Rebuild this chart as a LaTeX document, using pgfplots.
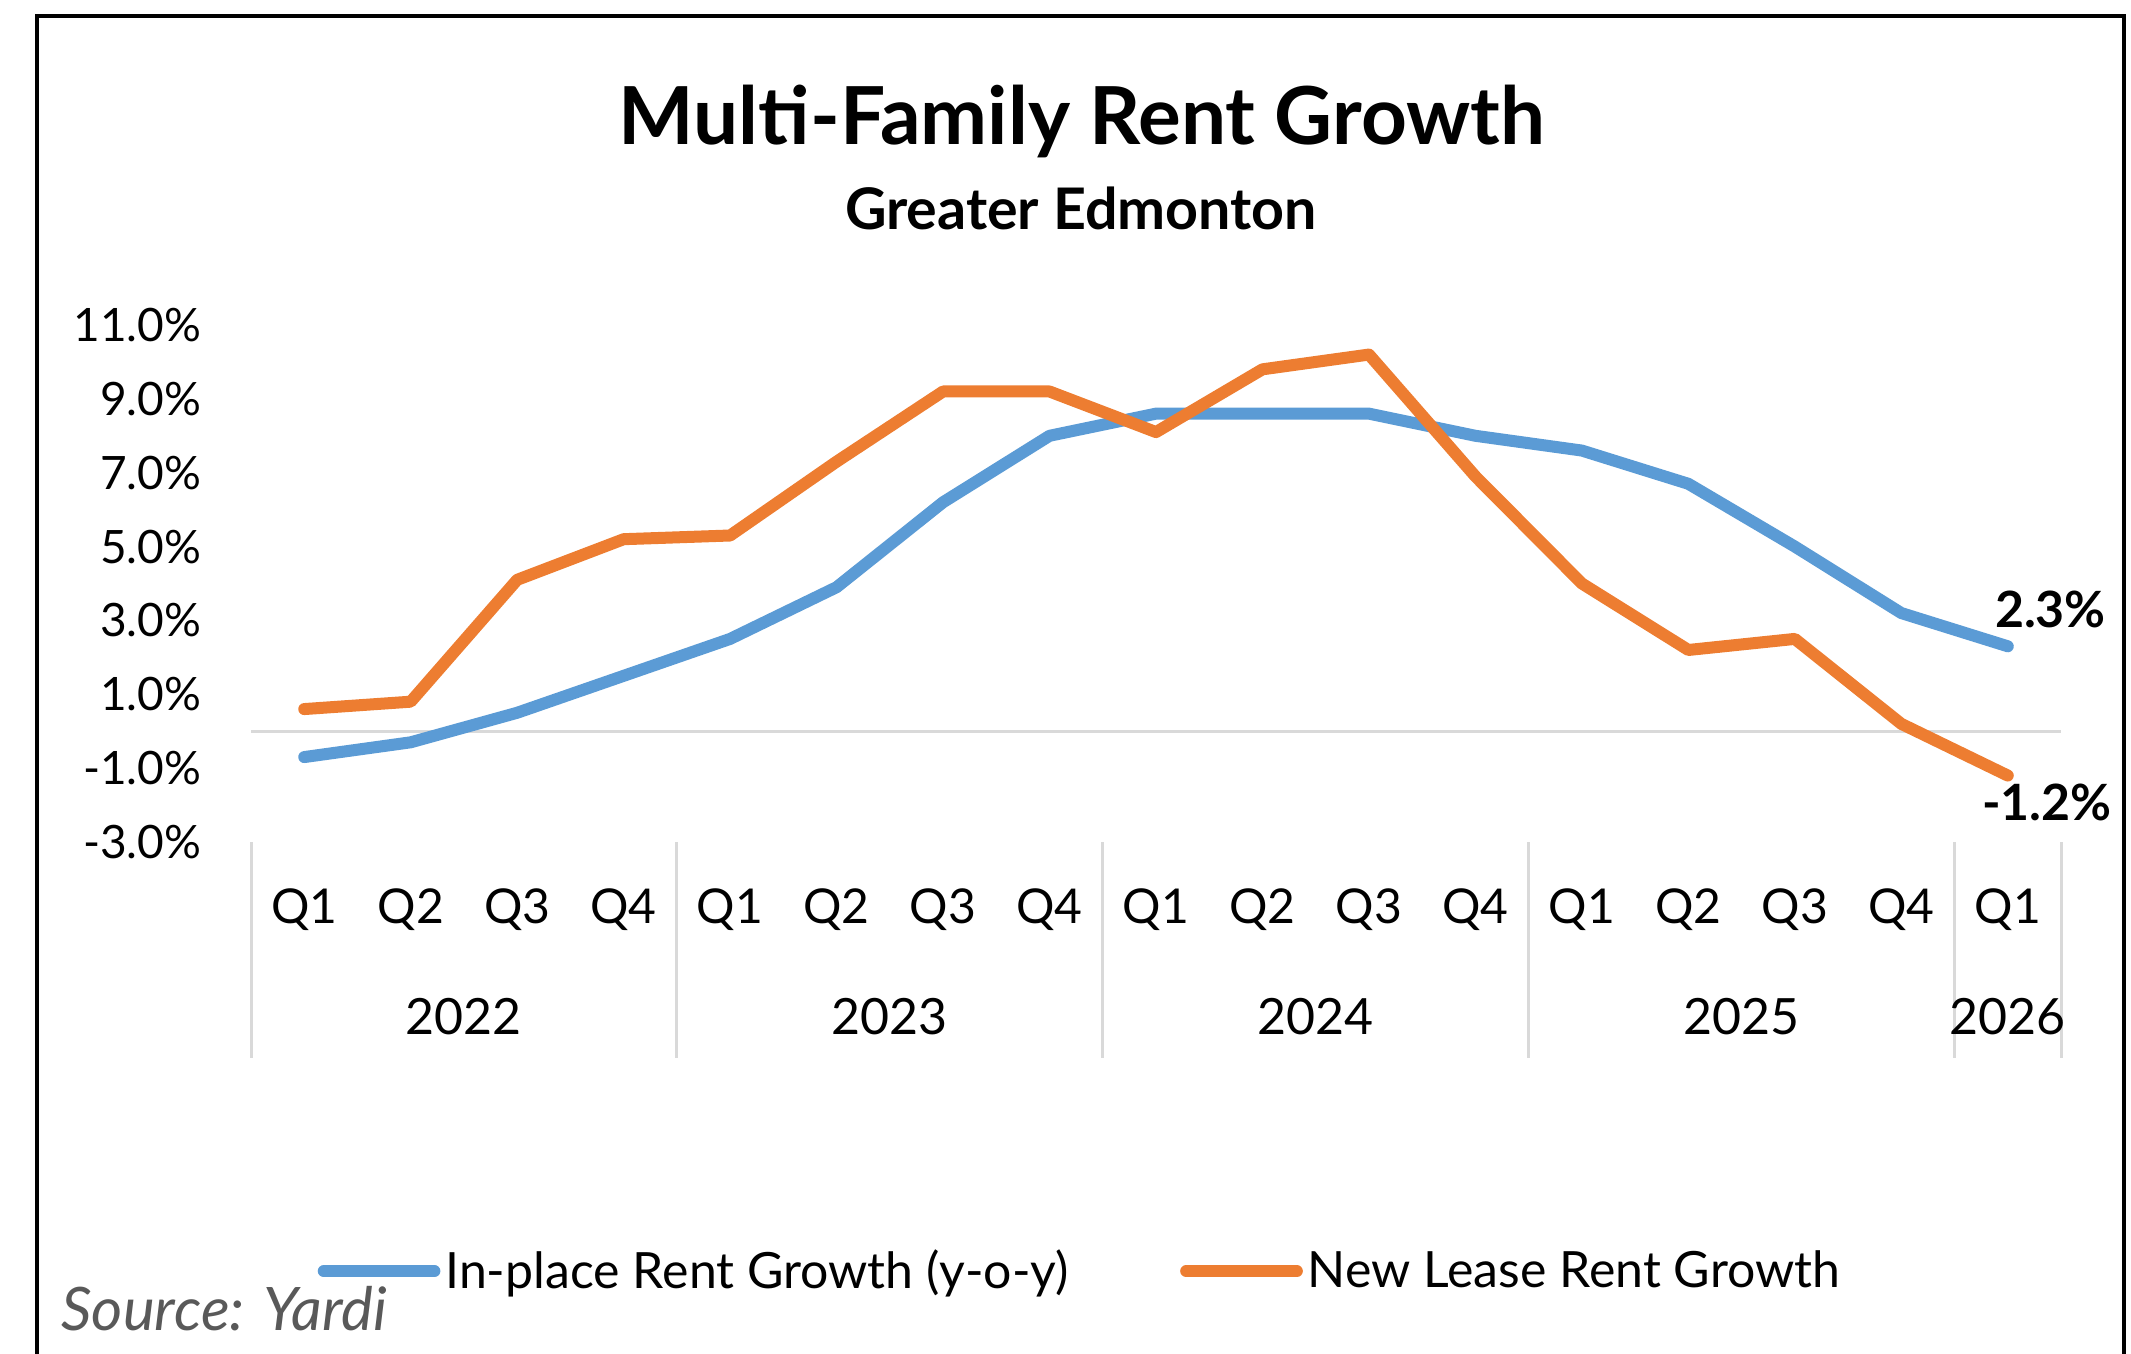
\documentclass[border=0pt]{standalone}
\usepackage{pgfplots}
\pgfplotsset{compat=1.18}
\usepackage{pgfplotstable}
\usepackage{fontspec}
\setmainfont{Lato}
\definecolor{cblue}{HTML}{5B9BD5}
\definecolor{corange}{HTML}{ED7D31}
\definecolor{lgray}{HTML}{D9D9D9}
\definecolor{sgray}{HTML}{595959}
\pgfplotstableread{
x inplace newlease
0 -0.7 0.6
1 -0.3 0.8
2 0.5 4.1
3 1.5 5.2
4 2.5 5.3
5 3.9 7.3
6 6.2 9.2
7 8.0 9.2
8 8.6 8.1
9 8.6 9.8
10 8.6 10.2
11 8.0 6.9
12 7.6 4.0
13 6.7 2.2
14 5.0 2.5
15 3.2 0.2
16 2.3 -1.2
}\rent
\begin{document}
\begin{tikzpicture}
\path[use as bounding box] (0,0) rectangle (639.3pt,-406.2pt);
\draw[line width=1pt] (11.1pt,-406.2pt) -- (11.1pt,-4.8pt) -- (637.2pt,-4.8pt) -- (637.2pt,-406.2pt);
\node[font=\bfseries\fontsize{24}{28}\selectfont] at (324.6pt,-36.3pt) {Multi-Family Rent Growth};
\node[font=\bfseries\fontsize{17.2}{20}\selectfont] at (324.3pt,-62.4pt) {Greater Edmonton};
\node[anchor=west, font=\itshape\fontsize{18}{21}\selectfont, text=sgray, inner sep=0pt] at (18.3pt,-392.7pt) {Source: Yardi};
\begin{axis}[
 at={(75.3pt,-252.6pt)}, anchor=south west,
 scale only axis, width=543pt, height=155.1pt,
 xmin=-0.5, xmax=16.5, ymin=-3, ymax=11,
 clip=false,
 axis line style={draw=none}, tick style={draw=none},
 /pgf/number format/assume math mode=true,
 xtick={0,...,16},
 xticklabels={Q1,Q2,Q3,Q4,Q1,Q2,Q3,Q4,Q1,Q2,Q3,Q4,Q1,Q2,Q3,Q4,Q1},
 ytick={-3,-1,...,11},
 yticklabels={-3.0\%,-1.0\%,1.0\%,3.0\%,5.0\%,7.0\%,9.0\%,11.0\%},
 tick label style={font=\fontsize{14.4}{17}\selectfont},
 yticklabel style={font=\fontsize{13.8}{17}\selectfont},
 xticklabel style={anchor=center, yshift=-20.4pt},
 yticklabel style={anchor=east, inner sep=0pt, xshift=-14.7pt},
 extra y ticks={0}, extra y tick labels={},
 extra y tick style={grid=major, major grid style={lgray, line width=0.9pt}},
 legend columns=2,
 legend style={at={(axis description cs:0.0365,-0.83)}, anchor=west, draw=none, fill=none, inner sep=0pt,
   font=\fontsize{15}{18}\selectfont, nodes={inner sep=1.5pt},
   /tikz/every even column/.append style={column sep=32pt}},
 legend image code/.code={\draw[line width=3.6pt,line cap=round] (1.8pt,0pt) -- (35pt,0pt);},
]
\addplot[cblue, line width=3.6pt, line cap=round, line join=round] table[x=x, y=inplace] {\rent};
\addlegendentry{In-place Rent Growth (y-o-y)}
\addplot[corange, line width=3.6pt, line cap=round, line join=round] table[x=x, y=newlease] {\rent};
\addlegendentry{New Lease Rent Growth}
\foreach \sx in {-0.5,3.5,7.5,11.5,15.5,16.5} {
  \edef\tmp{\noexpand\draw[lgray, line width=0.9pt] (axis cs:\sx,-3) -- ++(0pt,-64.8pt);}\tmp
}
\node[font=\fontsize{15}{18}\selectfont, yshift=-52.5pt] at (axis cs:1.5,-3) {2022};
\node[font=\fontsize{15}{18}\selectfont, yshift=-52.5pt] at (axis cs:5.5,-3) {2023};
\node[font=\fontsize{15}{18}\selectfont, yshift=-52.5pt] at (axis cs:9.5,-3) {2024};
\node[font=\fontsize{15}{18}\selectfont, yshift=-52.5pt] at (axis cs:13.5,-3) {2025};
\node[font=\fontsize{15}{18}\selectfont, yshift=-52.5pt] at (axis cs:16,-3) {2026};
\node[font=\bfseries\fontsize{15}{18}\selectfont, xshift=12.8pt, yshift=11.1pt] at (axis cs:16,2.3) {2.3\%};
\node[font=\bfseries\fontsize{15}{18}\selectfont, xshift=11.7pt, yshift=-8.1pt] at (axis cs:16,-1.2) {-1.2\%};
\end{axis}
\end{tikzpicture}
\end{document}
